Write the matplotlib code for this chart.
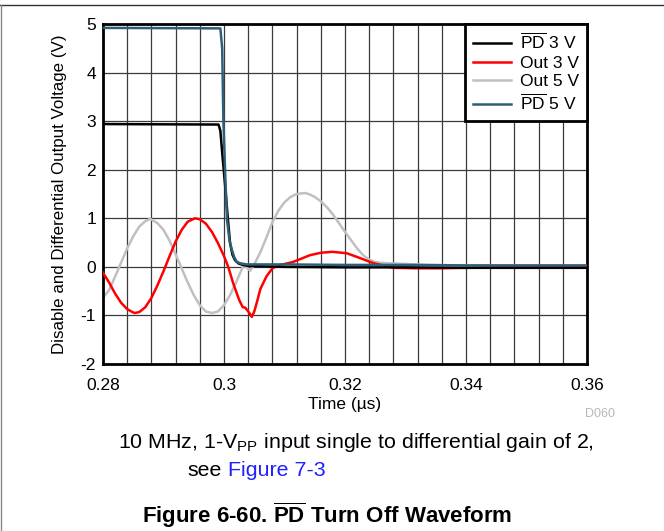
import numpy as np
import matplotlib
matplotlib.use("Agg")
import matplotlib.pyplot as plt
from matplotlib.lines import Line2D

plt.rcParams['font.family'] = ['Liberation Sans', 'DejaVu Sans']
plt.rcParams['mathtext.fontset'] = 'custom'
plt.rcParams['mathtext.rm'] = 'Liberation Sans'
plt.rcParams['mathtext.bf'] = 'Liberation Sans:bold'

# PD 3 V (black)
t_pd3 = [0.280, 0.2991, 0.2994, 0.2997, 0.3002, 0.3006, 0.3010, 0.3014, 0.3018,
         0.3024, 0.3031, 0.3040, 0.310, 0.320, 0.330, 0.340, 0.350, 0.360]
v_pd3 = [2.94, 2.93, 2.80, 2.35, 1.65, 1.05, 0.49, 0.25, 0.14,
         0.07, 0.04, 0.02, 0.00, -0.01, -0.01, -0.02, -0.02, -0.02]

# PD 5 V (teal)
t_pd5 = [0.280, 0.2994, 0.2997, 0.2999, 0.3002, 0.3005, 0.3009, 0.3013, 0.3017,
         0.3021, 0.3028, 0.3038, 0.310, 0.320, 0.330, 0.340, 0.350, 0.360]
v_pd5 = [4.92, 4.91, 4.50, 3.00, 1.90, 0.97, 0.55, 0.35, 0.20,
         0.10, 0.07, 0.05, 0.05, 0.04, 0.04, 0.03, 0.03, 0.03]

# Out 3 V (red)
t_out3 = [0.280, 0.281, 0.282, 0.283, 0.284, 0.285, 0.2853, 0.286, 0.287, 0.288,
          0.289, 0.290, 0.291, 0.292, 0.293, 0.294, 0.2952, 0.296, 0.297, 0.298,
          0.299, 0.300, 0.3007, 0.3015, 0.3025, 0.3031, 0.3035, 0.3039, 0.3043,
          0.3046, 0.305, 0.3055, 0.306, 0.307, 0.308, 0.309, 0.3114, 0.3142,
          0.316, 0.3179, 0.3203, 0.3225, 0.3246, 0.328, 0.332, 0.336, 0.340,
          0.345, 0.350, 0.355, 0.360]
v_out3 = [-0.12, -0.32, -0.55, -0.74, -0.87, -0.94, -0.95, -0.93, -0.83, -0.64,
          -0.38, -0.09, 0.22, 0.52, 0.76, 0.93, 1.00, 0.98, 0.89, 0.72,
          0.49, 0.22, 0.00, -0.33, -0.68, -0.83, -0.84, -0.90, -0.97,
          -1.03, -0.92, -0.70, -0.46, -0.20, -0.03, 0.03, 0.10, 0.24,
          0.29, 0.31, 0.28, 0.18, 0.08, -0.02, -0.03, -0.03, -0.02,
          -0.01, 0.00, 0.01, 0.01]

# Out 5 V (grey)
t_out5 = [0.280, 0.281, 0.282, 0.283, 0.284, 0.285, 0.286, 0.287, 0.2878, 0.289,
          0.290, 0.291, 0.292, 0.293, 0.294, 0.295, 0.296, 0.297, 0.298, 0.299,
          0.300, 0.301, 0.302, 0.3031, 0.3037, 0.3043, 0.305, 0.306, 0.307, 0.308,
          0.309, 0.310, 0.311, 0.312, 0.3134, 0.314, 0.315, 0.316, 0.317, 0.318,
          0.319, 0.320, 0.321, 0.322, 0.323, 0.324, 0.325, 0.326, 0.328, 0.330,
          0.334, 0.340, 0.350, 0.360]
v_out5 = [-0.63, -0.48, -0.20, 0.09, 0.38, 0.63, 0.83, 0.94, 0.99, 0.90,
          0.76, 0.54, 0.26, -0.03, -0.32, -0.58, -0.79, -0.92, -0.95, -0.92,
          -0.79, -0.58, -0.32, 0.00, 0.00, -0.08, 0.05, 0.30, 0.60, 0.92,
          1.16, 1.33, 1.44, 1.50, 1.52, 1.50, 1.44, 1.35, 1.23, 1.08,
          0.90, 0.72, 0.55, 0.38, 0.24, 0.15, 0.10, 0.08, 0.07, 0.06,
          0.04, 0.03, 0.02, 0.02]

x_major = [0.28, 0.30, 0.32, 0.34, 0.36]
x_labels = ['0.28', '0.3', '0.32', '0.34', '0.36']
y_major = [-2, -1, 0, 1, 2, 3, 4, 5]

PD = r'$\overline{\mathrm{PD}}$'

fig = plt.figure(figsize=(6.64, 5.31), dpi=100)
ax = fig.add_axes([103 / 664, 1 - 364 / 531, 484 / 664, 340 / 531])

ax.plot(t_pd3, v_pd3, color='black', lw=1.8, label=PD + ' 3 V', zorder=4)
ax.plot(t_out3, v_out3, color='#ff0000', lw=1.8, label='Out 3 V', zorder=3)
ax.plot(t_out5, v_out5, color='#c0c0c0', lw=1.8, label='Out 5 V', zorder=2)
ax.plot(t_pd5, v_pd5, color='#2d5f78', lw=1.8, label=PD + ' 5 V', zorder=5)

ax.set_xlim(0.28, 0.36)
ax.set_ylim(-2, 5)
ax.set_xticks(x_major)
ax.set_xticklabels(x_labels)
ax.set_xticks(np.arange(0.28, 0.3601, 0.004), minor=True)
ax.set_yticks(y_major)
ax.set_yticklabels([str(v) for v in y_major])
ax.tick_params(which='both', length=0, labelsize=12.5)
ax.tick_params(axis='x', pad=10)
ax.tick_params(axis='y', pad=5)
ax.grid(which='both', color='#3a3a3a', lw=0.9)
ax.set_axisbelow(True)
for s in ax.spines.values():
    s.set_linewidth(2)
    s.set_color('black')

ax.set_xlabel('Time (µs)', fontsize=12.5, labelpad=3)
ax.set_ylabel('Disable and Differential Output Voltage (V)', fontsize=12.2, labelpad=10)

leg = ax.legend(loc='upper right', borderaxespad=0, fancybox=False, fontsize=12.5,
                handlelength=2.2, handletextpad=0.5, labelspacing=0.2,
                borderpad=0.45, framealpha=1)
leg.get_frame().set_edgecolor('black')
leg.get_frame().set_linewidth(2)

fig.text(600 / 664, 1 - 414 / 531, 'D060', fontsize=9, color='#b8b8b8',
         ha='center', va='center')

fig.text(356 / 664, 1 - 442 / 531,
         r'10 MHz, 1-V$_{\mathrm{PP}}$ input single to differential gain of 2,',
         fontsize=15.4, ha='center', va='center')
fig.text(222 / 664, 1 - 470 / 531, 'see', fontsize=15.4, ha='right', va='center')
fig.text(228 / 664, 1 - 470 / 531, 'Figure 7-3', fontsize=15.4, color='#1f1fff',
         ha='left', va='center')
fig.text(327 / 664, 1 - 515 / 531,
         r'Figure 6-60. $\overline{\mathbf{PD}}$ Turn Off Waveform',
         fontsize=16, fontweight='bold', ha='center', va='center')

# frame lines along the top and left of the page
fig.add_artist(Line2D([0, 1], [1 - 5 / 531] * 2, transform=fig.transFigure,
                      color='#333333', lw=1))
fig.add_artist(Line2D([0.5 / 664] * 2, [0, 1 - 5 / 531], transform=fig.transFigure,
                      color='#888888', lw=1))

fig.savefig('out.png', dpi=100)
